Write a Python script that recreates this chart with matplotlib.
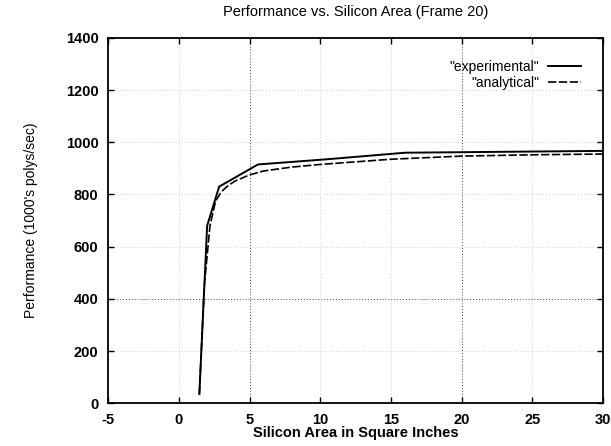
import matplotlib
matplotlib.use("Agg")
import matplotlib.pyplot as plt

# experimental (solid) - piecewise
exp_x = [1.45, 2.0, 2.85, 5.6, 10.5, 16.0, 20.0, 30.0]
exp_y = [35, 680, 830, 915, 935, 960, 962, 967]

# analytical (dashed) - smooth model curve
ana_x = [1.45, 1.8, 2.2, 2.6, 3.0, 3.5, 4.0, 5.0, 6.0, 8.0, 10.0, 15.0, 20.0, 25.0, 30.0]
ana_y = [35, 450, 680, 775, 810, 835, 852, 875, 890, 905, 915, 935, 947, 952, 955]

x_ticks = [-5, 0, 5, 10, 15, 20, 25, 30]
y_ticks = [0, 200, 400, 600, 800, 1000, 1200, 1400]

plt.rcParams["font.family"] = ["Liberation Sans", "DejaVu Sans"]

fig = plt.figure(figsize=(6.11, 4.46), dpi=100)
ax = fig.add_axes([0.177, 0.096, 0.81, 0.819])

# gnuplot-style dotted grid (scan only keeps some of it)
for xv in x_ticks[1:-1]:
    strong = xv in (5, 20)
    ax.axvline(xv, color="#444444" if strong else "#d0d0d0", lw=0.7,
               ls=(0, (1, 2)), zorder=0)
for yv in y_ticks[1:-1]:
    strong = yv == 400
    ax.axhline(yv, color="#444444" if strong else "#d0d0d0", lw=0.7,
               ls=(0, (1, 2)), zorder=0)

ax.plot(exp_x, exp_y, color="black", lw=1.4, label='"experimental"')
ax.plot(ana_x, ana_y, color="black", lw=1.2, ls=(0, (5, 1.5)),
        label='"analytical"')

ax.set_xlim(-5, 30)
ax.set_ylim(0, 1400)
ax.set_xticks(x_ticks)
ax.set_yticks(y_ticks)
ax.set_xticklabels([str(v) for v in x_ticks], fontsize=10.5)
ax.set_yticklabels([str(v) for v in y_ticks], fontsize=10.5)
ax.tick_params(direction="in", top=True, right=True, length=4, width=1,
               pad=7)
for lab in ax.get_xticklabels() + ax.get_yticklabels():
    lab.set_fontweight("semibold")
for sp in ax.spines.values():
    sp.set_linewidth(1.3)

ax.set_title("Performance vs. Silicon Area (Frame 20)", fontsize=10.5, pad=16)
ax.set_xlabel("Silicon Area in Square Inches", fontsize=10.5,
              fontweight="bold", labelpad=-1)
ax.set_ylabel("Performance (1000's polys/sec)", fontsize=10, labelpad=20)

ax.legend(loc="upper right", frameon=False, markerfirst=False, fontsize=10,
          handlelength=2.4, labelspacing=0.15, borderaxespad=1.2,
          handletextpad=0.6)

fig.savefig("out.png", dpi=100)
